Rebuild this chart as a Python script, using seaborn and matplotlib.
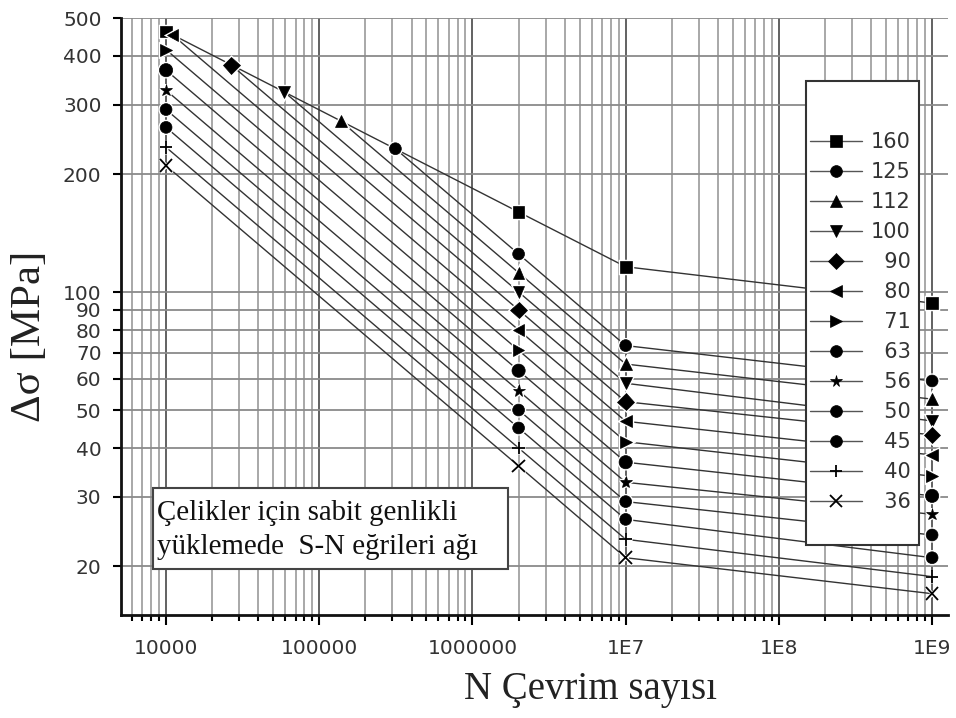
import numpy as np
import pandas as pd
import matplotlib
matplotlib.use("Agg")
import matplotlib.pyplot as plt
import matplotlib.patheffects as pe
from matplotlib.lines import Line2D
from matplotlib.patches import Rectangle
from matplotlib.ticker import FixedLocator, FixedFormatter, NullFormatter
import seaborn as sns

# ---------------- data ----------------
categories = [160, 125, 112, 100, 90, 80, 71, 63, 56, 50, 45, 40, 36]
markers = ['s', 'o', '^', 'v', 'D', '<', '>', 'o', '*', 'o', 'o', '+', 'x']
N_start = [1e4, 314000, 138000, 59000, 26700, 11000, 1e4, 1e4, 1e4, 1e4, 1e4, 1e4, 1e4]
S_start = [462, 232, 273, 324, 379, 453, 415, 368, 327, 292, 263, 234, 210]
N_mid = [2e6, 1e7, 1e9]
S_2e6 = [160, 125, 112, 100, 90, 80, 71, 63, 56, 50, 45, 40, 36]
S_1e7 = [116, 73, 65.5, 58.5, 52.5, 46.8, 41.5, 36.8, 32.7, 29.2, 26.3, 23.4, 21]
S_1e9 = [93.7, 59.3, 53.3, 46.9, 43.2, 38.4, 33.9, 30.2, 27.1, 24.0, 21.0, 18.8, 17.0]

x_ticks = [1e4, 1e5, 1e6, 1e7, 1e8, 1e9]
x_tick_labels = ['10000', '100000', '1000000', '1E7', '1E8', '1E9']
y_ticks = [20, 30, 40, 50, 60, 70, 80, 90, 100, 200, 300, 400, 500]
y_tick_labels = [str(v) for v in y_ticks]

box_text = "Çelikler için sabit genlikli\nyüklemede  S-N eğrileri ağı"
x_label = "N Çevrim sayısı"
y_label = "Δσ [MPa]"

rows = []
for i, c in enumerate(categories):
    xs = [N_start[i]] + N_mid
    ys = [S_start[i], S_2e6[i], S_1e7[i], S_1e9[i]]
    for xv, yv in zip(xs, ys):
        rows.append({'N': xv, 'S': yv, 'cat': c})
df = pd.DataFrame(rows)

# ---------------- style ----------------
sns.set_theme(style='white')
plt.rcParams['font.family'] = ['DejaVu Sans']

W, H = 956, 718
fig = plt.figure(figsize=(W / 100, H / 100), dpi=100)
fig.patch.set_facecolor('white')
L, R, T, B = 121, 948, 18, 615
ax = fig.add_axes([L / W, 1 - B / H, (R - L) / W, (B - T) / H])
ax.set_xscale('log')
ax.set_yscale('log')
ax.set_xlim(5080, 1.27e9)
ax.set_ylim(15, 500)

line_col = '#333333'
sns.lineplot(data=df, x='N', y='S', units='cat', estimator=None, sort=True,
             color=line_col, linewidth=1.0, legend=False, ax=ax, zorder=3)

halo = [pe.Stroke(linewidth=2.5, foreground='white'), pe.Normal()]
for i, c in enumerate(categories):
    xs = [N_start[i]] + N_mid
    ys = [S_start[i], S_2e6[i], S_1e7[i], S_1e9[i]]
    m = markers[i]
    ms = 8.5
    if m == 'o' and c == 63:
        ms = 9.5
    if m in ('*',):
        ms = 9
    if m in ('+', 'x'):
        ms = 9
    mew = 1.3 if m in ('+', 'x') else 0.5
    ax.plot(xs, ys, ls='none', marker=m, ms=ms, color='black', mec='black',
            mew=mew, zorder=4, path_effects=halo)

# ---------------- ticks & grid ----------------
ax.xaxis.set_major_locator(FixedLocator(x_ticks))
ax.xaxis.set_major_formatter(FixedFormatter(x_tick_labels))
minor_x = [k * 10 ** e for e in range(3, 10) for k in range(2, 10)]
ax.xaxis.set_minor_locator(FixedLocator(minor_x))
ax.xaxis.set_minor_formatter(NullFormatter())
ax.yaxis.set_major_locator(FixedLocator(y_ticks))
ax.yaxis.set_major_formatter(FixedFormatter(y_tick_labels))
ax.yaxis.set_minor_locator(FixedLocator([]))

ax.tick_params(axis='both', which='major', direction='out', length=7, width=1.5,
               color='black', labelsize=14.5, labelcolor='#333333')
ax.tick_params(axis='x', which='major', pad=10)
ax.tick_params(axis='y', which='major', pad=8, length=6)
ax.tick_params(axis='x', which='minor', direction='out', length=4, width=1.5, color='black')
ax.tick_params(axis='y', which='minor', length=0)
ax.tick_params(left=True, bottom=True, which='both')

ax.grid(True, which='major', axis='x', color='#555555', linewidth=1.3, zorder=1)
ax.grid(True, which='minor', axis='x', color='#9a9a9a', linewidth=1.2, zorder=1)
ax.grid(True, which='major', axis='y', color='#8a8a8a', linewidth=1.3, zorder=1)
ax.set_axisbelow(True)

for s in ['top', 'right']:
    ax.spines[s].set_visible(False)
for s in ['left', 'bottom']:
    ax.spines[s].set_color('#111111')
    ax.spines[s].set_linewidth(2.0)

ax.set_xlabel('')
ax.set_ylabel('')

# ---------------- axis titles ----------------
fig.text(30 / W, 1 - 336 / H, y_label, rotation=90, ha='center', va='center',
         fontsize=31, family=['Liberation Serif'], color='#222222')
fig.text(590 / W, 1 - 690 / H, x_label, ha='center', va='center',
         fontsize=28, family=['Liberation Serif'], color='#222222')

# ---------------- annotation box ----------------
tb = Rectangle((153 / W, 1 - 569 / H), (508 - 153) / W, (569 - 488) / H,
               transform=fig.transFigure, facecolor='white', edgecolor='#444444',
               linewidth=1.5, zorder=6, clip_on=False)
ax.add_artist(tb)
ax.text(157 / W, 1 - 530.5 / H, box_text, transform=fig.transFigure, ha='left',
        va='center', fontsize=20.8, family=['Liberation Serif'], color='#111111',
        linespacing=1.4, zorder=7)

# ---------------- legend ----------------
lb = Rectangle((806 / W, 1 - 545 / H), (919 - 806) / W, (545 - 81) / H,
               transform=fig.transFigure, facecolor='white', edgecolor='#333333',
               linewidth=1.5, zorder=6, clip_on=False)
ax.add_artist(lb)
handles = []
for i, c in enumerate(categories):
    m = markers[i]
    handles.append(Line2D([0], [0], color='#555555', lw=1.0, marker=m, ms=8.5,
                          mfc='black', mec='black',
                          mew=1.3 if m in ('+', 'x') else 0.5))
labels = [('\u2007' * (3 - len(str(c)))) + str(c) for c in categories]
leg = ax.legend(handles, labels, loc='upper left', frameon=False,
                bbox_to_anchor=(810 / W, 1 - 132.5 / H),
                bbox_transform=fig.transFigure, fontsize=15, handlelength=2.5,
                handletextpad=0.43, labelspacing=0.48, borderpad=0,
                borderaxespad=0)
leg.set_zorder(8)
for t in leg.get_texts():
    t.set_color('#333333')

fig.savefig('out.png', dpi=100, facecolor='white')
